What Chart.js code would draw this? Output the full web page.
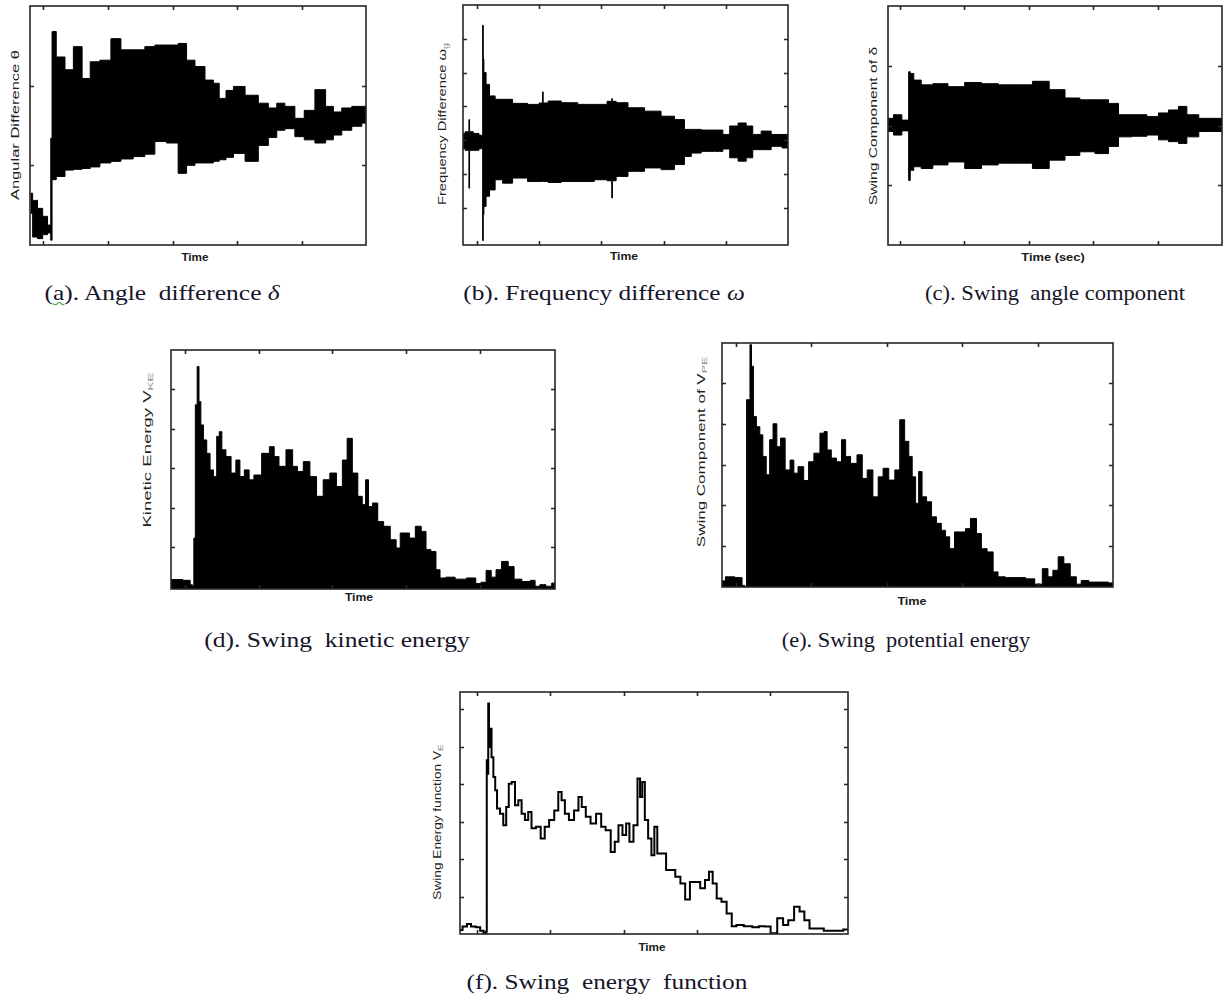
<!DOCTYPE html>
<html>
<head>
<meta charset="utf-8">
<script src="https://cdn.jsdelivr.net/npm/chart.js@4.4.1/dist/chart.umd.min.js"></script>
<style>
  html,body{margin:0;padding:0;background:#fff;}
  body{width:1225px;height:1002px;position:relative;overflow:hidden;}
  canvas.c{position:absolute;}
  .yt{position:absolute;font:11px "Liberation Sans",Arial,sans-serif;color:#1e1e1e;white-space:pre;line-height:1;}
  .yt sub{font-size:8px;color:#888;vertical-align:-2px;}
  .xt{position:absolute;font:bold 10px "Liberation Sans",Arial,sans-serif;color:#1a1a1a;white-space:pre;line-height:1;}
  .cap{position:absolute;font:21px "Liberation Serif","Times New Roman",serif;color:#15152a;white-space:pre;line-height:1;}
  .sq{text-decoration:underline wavy #3c9c3c;text-decoration-thickness:1px;}
</style>
</head>
<body>
<script>
// ---------------- data ----------------
const xTicks = [0, 1, 2, 3, 4];

// (a) Angle difference: envelope of the oscillating signal
const timeA  = [-0.2,-0.13,-0.05,0.03,0.10,0.13,0.14,0.26,0.41,0.52,0.68,0.77,0.98,1.11,1.29,1.49,1.65,1.80,2.01,2.16,2.27,2.42,2.58,2.68,2.76,2.89,2.99,3.25,3.40,3.56,3.66,3.81,3.97,4.10,4.30,4.43,4.54,4.69,4.85,5.0];
const upperA = [0.65,0.56,0.46,0.36,0.25,1.34,2.68,2.36,2.20,2.49,2.09,2.30,2.32,2.59,2.45,2.45,2.49,2.51,2.51,2.53,2.32,2.24,2.07,2.03,1.84,1.94,1.99,1.88,1.78,1.72,1.78,1.74,1.59,1.69,1.95,1.74,1.67,1.72,1.74,1.74];
const lowerA = [0.40,0.10,0.08,0.13,0.15,0.06,0.82,0.86,0.94,0.95,0.96,0.98,1.03,1.05,1.08,1.11,1.14,1.30,1.28,0.90,1.00,1.03,1.03,1.05,1.07,1.10,1.15,1.05,1.25,1.35,1.44,1.46,1.36,1.32,1.28,1.32,1.38,1.44,1.49,1.53];
const yTicksA = [1, 2];

// (b) Frequency difference
const timeB  = [-0.22,-0.15,-0.13,-0.12,-0.11,0.0,0.07,0.09,0.10,0.11,0.12,0.18,0.23,0.36,0.47,0.68,0.95,1.05,1.06,1.07,1.22,1.49,1.75,2.02,2.16,2.17,2.18,2.29,2.56,2.82,3.09,3.25,3.41,3.47,3.73,3.89,4.00,4.11,4.27,4.37,4.48,4.64,4.80,4.99];
const upperB = [0.20,0.25,0.25,0.61,0.25,0.20,0.15,0.10,3.40,2.40,2.00,1.65,1.31,1.21,1.21,1.09,1.06,1.10,1.43,1.10,1.16,1.11,1.06,1.06,1.15,1.23,1.15,1.11,0.96,0.86,0.71,0.61,0.32,0.32,0.30,0.30,0.17,0.42,0.51,0.42,0.17,0.27,0.17,0.17];
const lowerB = [-0.25,-0.30,-0.30,-1.42,-0.30,-0.30,-0.25,-0.20,-2.97,-2.20,-1.96,-1.66,-1.47,-1.17,-1.27,-1.12,-1.22,-1.22,-1.22,-1.22,-1.25,-1.22,-1.22,-1.17,-1.20,-1.71,-1.20,-1.07,-0.92,-0.82,-0.87,-0.72,-0.48,-0.38,-0.33,-0.33,-0.26,-0.52,-0.62,-0.52,-0.28,-0.28,-0.18,-0.23];
const yTicksB = [-2, -1, 0, 1, 2, 3];

// (c) Swing angle component
const timeC  = [-0.18,-0.16,-0.03,0.10,0.13,0.15,0.18,0.26,0.41,0.62,0.88,1.14,1.40,1.66,1.92,2.20,2.44,2.69,2.90,3.16,3.32,3.47,3.73,3.94,4.09,4.25,4.40,4.51,4.77,5.00];
const upperC = [0.12,0.12,0.18,0.09,0.09,0.90,0.87,0.76,0.68,0.70,0.65,0.72,0.70,0.68,0.68,0.74,0.60,0.46,0.43,0.43,0.37,0.18,0.18,0.15,0.21,0.26,0.32,0.18,0.12,0.12];
const lowerC = [-0.10,-0.10,-0.16,-0.09,-0.09,-0.92,-0.75,-0.69,-0.72,-0.66,-0.61,-0.72,-0.66,-0.63,-0.63,-0.72,-0.58,-0.50,-0.44,-0.47,-0.35,-0.19,-0.18,-0.16,-0.24,-0.27,-0.30,-0.19,-0.10,-0.10];
const yTicksC = [-1, 0, 1];

// (d) Swing kinetic energy
const timeD    = [-0.19,-0.11,0.05,0.09,0.11,0.13,0.15,0.18,0.20,0.23,0.27,0.32,0.36,0.41,0.45,0.48,0.52,0.59,0.66,0.72,0.77,0.84,0.90,0.97,1.11,1.18,1.24,1.31,1.43,1.49,1.56,1.65,1.74,1.83,1.92,2.01,2.10,2.17,2.23,2.31,2.38,2.43,2.47,2.51,2.58,2.65,2.74,2.83,2.90,2.94,3.01,3.08,3.17,3.24,3.30,3.37,3.44,3.48,3.60,3.73,3.91,3.98,4.05,4.12,4.19,4.25,4.34,4.43,4.50,4.64,4.73,4.77,4.86,4.93,5.02];
const kineticD = [0.18,0.18,0.16,0.05,0.01,1.23,4.61,5.58,4.69,4.10,3.72,3.38,2.96,2.79,3.81,3.93,3.47,3.30,2.88,3.21,2.79,2.96,2.71,2.83,3.38,3.55,3.30,3.05,3.47,3.05,2.92,3.17,2.79,2.29,2.71,2.88,2.54,3.21,3.76,2.88,2.29,2.08,2.71,2.03,2.12,1.65,1.53,1.19,0.98,1.36,1.36,1.23,1.53,1.40,0.94,0.89,0.43,0.22,0.24,0.19,0.22,0.08,0.11,0.41,0.24,0.43,0.64,0.51,0.19,0.13,0.16,0.01,0.05,0.01,0.09];
const yTicksD = [1, 2, 3, 4, 5];

// (e) Swing potential energy
const timeE      = [-0.18,-0.09,0.07,0.10,0.14,0.15,0.18,0.20,0.22,0.25,0.30,0.34,0.38,0.43,0.47,0.52,0.57,0.62,0.69,0.75,0.79,0.86,0.94,0.99,1.08,1.15,1.19,1.23,1.30,1.37,1.43,1.48,1.56,1.65,1.70,1.78,1.85,1.92,1.98,2.07,2.14,2.20,2.27,2.31,2.36,2.40,2.44,2.49,2.56,2.62,2.69,2.75,2.80,2.86,2.93,3.02,3.06,3.15,3.22,3.28,3.37,3.44,3.50,3.63,3.77,3.90,4.01,4.10,4.16,4.23,4.30,4.38,4.47,4.54,4.60,4.74,4.87,4.99];
const potentialE = [0.15,0.25,0.23,0.04,0.00,4.59,4.59,5.94,5.41,4.18,3.93,3.73,3.20,2.75,3.61,4.00,3.44,3.65,2.87,3.11,2.79,2.95,2.61,3.07,3.28,3.77,3.81,3.36,3.16,3.07,3.61,3.20,3.03,3.24,2.66,2.87,2.21,2.70,2.91,2.62,2.87,4.10,3.57,3.20,2.70,2.05,2.83,2.21,2.09,1.72,1.56,1.39,1.23,0.94,1.35,1.35,1.43,1.68,1.31,0.94,0.86,0.37,0.25,0.23,0.23,0.20,0.07,0.45,0.25,0.41,0.74,0.57,0.25,0.07,0.16,0.12,0.12,0.10];
const yTicksE = [1, 2, 3, 4, 5];

// (f) Swing energy function
const timeF   = [-0.23,-0.16,-0.11,-0.05,0.02,0.07,0.11,0.13,0.14,0.15,0.16,0.17,0.19,0.21,0.24,0.26,0.29,0.34,0.38,0.42,0.45,0.50,0.54,0.59,0.63,0.68,0.72,0.77,0.84,0.90,0.95,1.02,1.09,1.13,1.18,1.22,1.29,1.36,1.41,1.45,1.52,1.58,1.67,1.72,1.79,1.86,1.90,1.96,2.01,2.06,2.10,2.17,2.21,2.24,2.27,2.31,2.36,2.40,2.44,2.48,2.56,2.60,2.67,2.74,2.81,2.87,2.94,3.01,3.08,3.14,3.19,3.24,3.30,3.37,3.44,3.51,3.57,3.71,3.80,3.89,3.96,4.05,4.14,4.21,4.28,4.37,4.43,4.50,4.57,4.66,4.80,4.93,5.06];
const energyF = [0.11,0.20,0.27,0.20,0.18,0.09,0.02,0.06,4.64,4.28,6.15,4.99,5.48,4.72,4.19,3.84,3.35,3.21,2.90,3.39,4.01,4.06,3.44,3.57,3.21,3.04,3.26,2.82,2.86,2.55,2.86,3.04,3.30,3.79,3.57,3.21,3.04,3.30,3.66,3.39,3.13,2.95,3.21,2.86,2.77,2.19,2.46,2.90,2.64,2.95,2.46,2.90,4.15,3.66,4.06,3.04,2.55,2.10,2.86,2.15,2.15,1.71,1.71,1.53,1.35,0.92,1.39,1.39,1.22,1.44,1.66,1.35,0.95,0.86,0.55,0.21,0.24,0.21,0.18,0.21,0.20,0.02,0.42,0.24,0.37,0.73,0.60,0.37,0.15,0.15,0.09,0.09,0.12];
const yTicksF = [1, 2, 3, 4, 5, 6];

// texts
const yTitles  = ['Angular Difference θ', 'Frequency Difference ω<sub>g</sub>', 'Swing Component of δ', 'Kinetic Energy V<sub>KE</sub>', 'Swing Component of V<sub>PE</sub>', 'Swing Energy function V<sub>E</sub>'];
const xTitles  = ['Time', 'Time', 'Time (sec)', 'Time', 'Time', 'Time'];
const captions = ['(<span class="sq">a</span>). Angle  difference <i>δ</i>', '(b). Frequency difference <i>ω</i>', '(c). Swing  angle component', '(d). Swing  kinetic energy', '(e). Swing  potential energy', '(f). Swing  energy  function'];

// ---------------- layout (positions only) ----------------
const LAYOUT = [
  {box:[30,6,366,245],    xr:[-0.206,4.99], yr:[0,3],      yt:[15,125,150],  xt:[195,258,27],  cap:[162,293,235]},
  {box:[463,5,788,245],   xr:[-0.22,4.99],  yr:[-3.1,4.0], yt:[443,124,162], xt:[624,257,28],  cap:[604,293,282]},
  {box:[888,6,1222,245],  xr:[-0.18,5.0],   yr:[-2,2],     yt:[873,126,158], xt:[1053,258,63], cap:[1055,293,260]},
  {box:[171,350,555,589], xr:[-0.19,5.02],  yr:[-0.06,6],  yt:[148,450,155], xt:[359,598,28],  cap:[337,640,265]},
  {box:[722,343,1113,587],xr:[-0.18,4.99],  yr:[0,5.98],   yt:[702,452,190], xt:[912,602,29],  cap:[906,640,248]},
  {box:[460,692,848,934], xr:[-0.23,5.06],  yr:[0,6.46],   yt:[438,822,155], xt:[652,948,27],  cap:[607,982,281]}
];

// ---------------- drawing ----------------
const pts = (t, v) => t.map((x, i) => ({x: x, y: v[i]}));

const framePlugin = {
  id: 'frame',
  afterDatasetsDraw(chart, args, opts) {
    const ctx = chart.ctx, a = chart.chartArea, xs = chart.scales.x, ys = chart.scales.y;
    const L = 4;
    ctx.save();
    ctx.strokeStyle = '#262626';
    ctx.lineWidth = 1.6;
    ctx.strokeRect(a.left, a.top, a.right - a.left, a.bottom - a.top);
    ctx.beginPath();
    (opts.xTicks || []).forEach(v => {
      const p = Math.round(xs.getPixelForValue(v)) + 0.5;
      ctx.moveTo(p, a.top); ctx.lineTo(p, a.top + L);
      ctx.moveTo(p, a.bottom); ctx.lineTo(p, a.bottom - L);
    });
    (opts.yTicks || []).forEach(v => {
      const p = Math.round(ys.getPixelForValue(v)) + 0.5;
      ctx.moveTo(a.left, p); ctx.lineTo(a.left + L, p);
      ctx.moveTo(a.right, p); ctx.lineTo(a.right - L, p);
    });
    ctx.stroke();
    ctx.restore();
  }
};

function makeChart(lay, yTicks, datasets) {
  const pad = 3;
  const [L, T, R, B] = lay.box;
  const cv = document.createElement('canvas');
  cv.className = 'c';
  cv.width = R - L + 2 * pad;
  cv.height = B - T + 2 * pad;
  cv.style.left = (L - pad) + 'px';
  cv.style.top = (T - pad) + 'px';
  document.body.appendChild(cv);
  new Chart(cv, {
    type: 'line',
    data: {datasets: datasets},
    options: {
      responsive: false, animation: false, events: [],
      layout: {padding: pad},
      plugins: {legend: {display: false}, tooltip: {enabled: false}, frame: {xTicks: xTicks, yTicks: yTicks}},
      scales: {
        x: {type: 'linear', display: false, min: lay.xr[0], max: lay.xr[1]},
        y: {type: 'linear', display: false, min: lay.yr[0], max: lay.yr[1]}
      },
      elements: {point: {radius: 0}, line: {tension: 0}}
    },
    plugins: [framePlugin]
  });
}

function envelope(t, up, lo) {
  return [
    {data: pts(t, up), borderColor: '#000', borderWidth: 1, backgroundColor: '#000', fill: '+1', stepped: 'middle'},
    {data: pts(t, lo), borderColor: '#000', borderWidth: 1, fill: false, stepped: 'middle'}
  ];
}
function area(t, v) {
  return [{data: pts(t, v), borderColor: '#000', borderWidth: 1, backgroundColor: '#000', fill: 'start', stepped: 'middle'}];
}

makeChart(LAYOUT[0], yTicksA, envelope(timeA, upperA, lowerA));
makeChart(LAYOUT[1], yTicksB, envelope(timeB, upperB, lowerB));
makeChart(LAYOUT[2], yTicksC, envelope(timeC, upperC, lowerC));
makeChart(LAYOUT[3], yTicksD, area(timeD, kineticD));
makeChart(LAYOUT[4], yTicksE, area(timeE, potentialE));
makeChart(LAYOUT[5], yTicksF, [{data: pts(timeF, energyF), borderColor: '#000', borderWidth: 2, fill: false, stepped: 'middle'}]);

// ---------------- text ----------------
function addText(cls, html, cx, cy, target, rotate) {
  const el = document.createElement('div');
  el.className = cls;
  el.innerHTML = html;
  el.style.left = cx + 'px';
  el.style.top = cy + 'px';
  document.body.appendChild(el);
  const k = target / el.offsetWidth;
  el.style.transform = 'translate(-50%,-50%)' + (rotate ? ' rotate(-90deg)' : '') + ' scaleX(' + k.toFixed(3) + ')';
}
LAYOUT.forEach((lay, i) => {
  addText('yt', yTitles[i], lay.yt[0], lay.yt[1], lay.yt[2], true);
  addText('xt', xTitles[i], lay.xt[0], lay.xt[1], lay.xt[2], false);
  addText('cap', captions[i], lay.cap[0], lay.cap[1], lay.cap[2], false);
});
</script>
</body>
</html>
